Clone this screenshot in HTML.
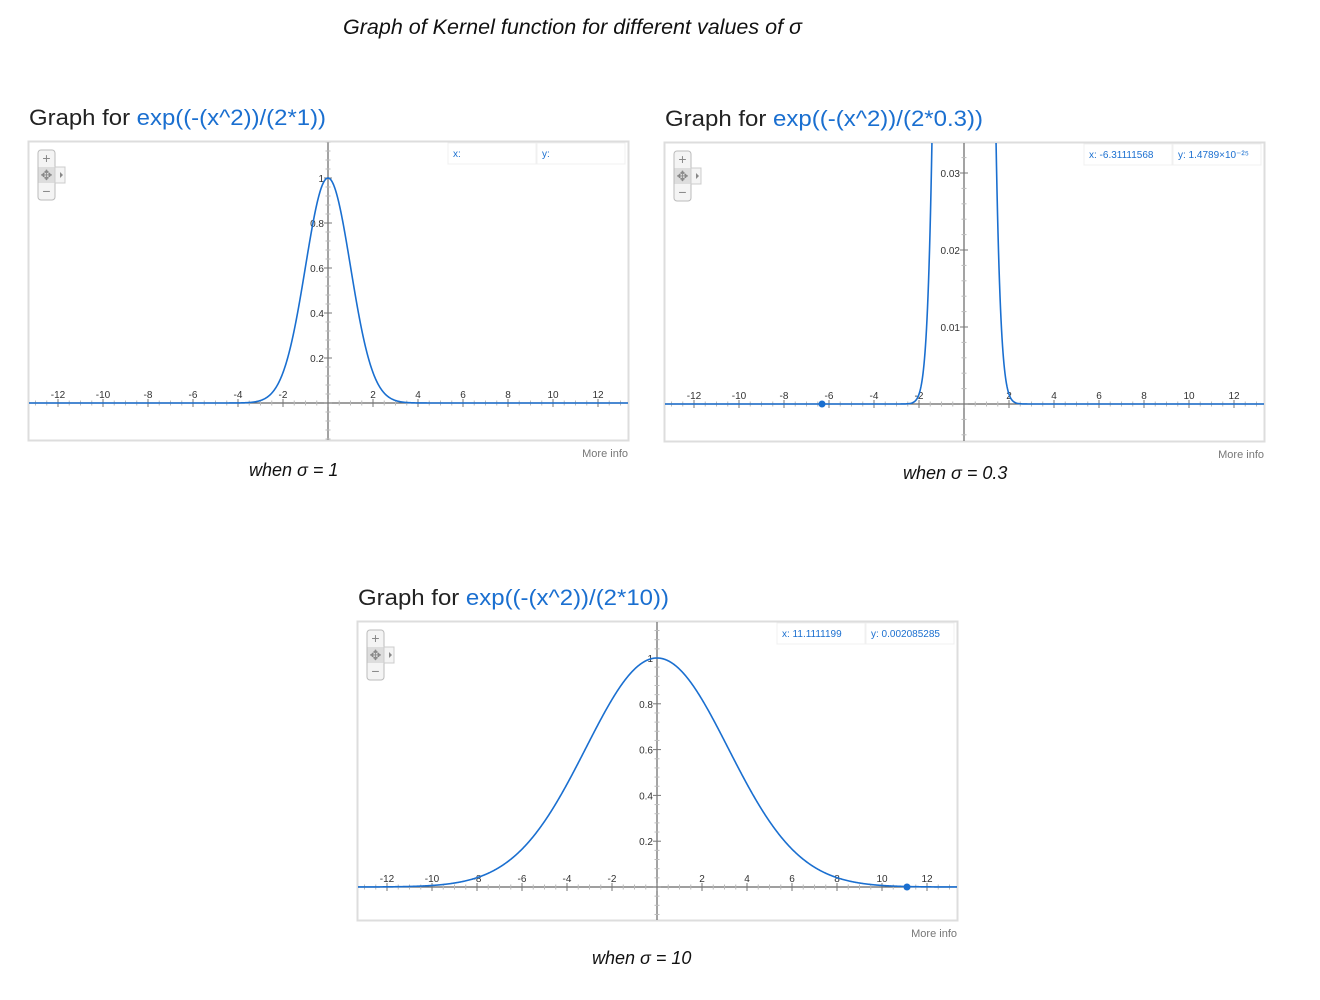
<!DOCTYPE html>
<html><head><meta charset="utf-8"><style>
html,body{margin:0;padding:0;background:#fff;width:1320px;height:1000px;overflow:hidden}
svg{display:block}
</style></head><body>
<svg id="s" width="1320" height="1000" xmlns="http://www.w3.org/2000/svg" font-family="Liberation Sans, Arial, sans-serif">
<text x="343" y="34" font-size="21" font-style="italic" fill="#111" textLength="459" lengthAdjust="spacingAndGlyphs">Graph of Kernel function for different values of σ</text>

<text x="29" y="125" font-size="22" fill="#222" textLength="297" lengthAdjust="spacingAndGlyphs">Graph for <tspan fill="#1a6fd0">exp((-(x^2))/(2*1))</tspan></text>
<text x="665" y="126" font-size="22" fill="#222" textLength="318" lengthAdjust="spacingAndGlyphs">Graph for <tspan fill="#1a6fd0">exp((-(x^2))/(2*0.3))</tspan></text>
<text x="358" y="605" font-size="22" fill="#222" textLength="311" lengthAdjust="spacingAndGlyphs">Graph for <tspan fill="#1a6fd0">exp((-(x^2))/(2*10))</tspan></text>

<text x="249" y="476" font-size="18" font-style="italic" fill="#111">when σ = 1</text>
<text x="903" y="479" font-size="18" font-style="italic" fill="#111">when σ = 0.3</text>
<text x="592" y="964" font-size="18" font-style="italic" fill="#111">when σ = 10</text>

<text x="628" y="457" font-size="11" fill="#777" text-anchor="end">More info</text>
<text x="1264" y="458" font-size="11" fill="#777" text-anchor="end">More info</text>
<text x="957" y="937" font-size="11" fill="#777" text-anchor="end">More info</text>
<g id="g"></g>
</svg>
<script>
var NS="http://www.w3.org/2000/svg",G=document.getElementById('g'),h='';
function graph(bx,by,ox,oy,ys,yt,ylab,f,xl,yl,dot){
 var W=600,H=299,sx=22.5;
 h+='<rect x="'+(bx+0.5)+'" y="'+(by+0.5)+'" width="'+W+'" height="'+H+'" fill="#fff" stroke="#ddd" stroke-width="2"/>';
 h+='<clipPath id="c'+bx+'"><rect x="'+(bx+1)+'" y="'+(by+1)+'" width="'+(W-1)+'" height="'+(H-1)+'"/></clipPath>';
 h+='<g clip-path="url(#c'+bx+')">';
 // axes
 h+='<line x1="'+bx+'" y1="'+oy+'" x2="'+(bx+W)+'" y2="'+oy+'" stroke="#666" stroke-width="1.2"/>';
 h+='<line x1="'+ox+'" y1="'+by+'" x2="'+ox+'" y2="'+(by+H)+'" stroke="#666" stroke-width="1.2"/>';
 for(var k=-30;k<=30;k++){var x=ox+k*sx/2;if(x<bx||x>bx+W)continue;var maj=k%4==0;
  h+='<line x1="'+x+'" y1="'+(oy-(maj?4:2.5))+'" x2="'+x+'" y2="'+(oy+(maj?4:2.5))+'" stroke="'+(maj?'#777':'#bbb')+'"/>';
  if(maj&&k!=0)h+='<text x="'+x+'" y="'+(oy-5)+'" font-size="10" fill="#333" text-anchor="middle">'+(k/2)+'</text>';}
 for(var k=-20;k<=40;k++){var y=oy-k*yt/5;if(y<by||y>by+H)continue;var maj=k%5==0;
  h+='<line x1="'+(ox-(maj?4:2.5))+'" y1="'+y+'" x2="'+(ox+(maj?4:2.5))+'" y2="'+y+'" stroke="'+(maj?'#777':'#bbb')+'"/>';
  if(maj&&k!=0&&ylab[k/5-1])h+='<text x="'+(ox-4)+'" y="'+(y+4)+'" font-size="10" fill="#333" text-anchor="end">'+ylab[k/5-1]+'</text>';}
 var d='';for(var px=bx;px<=bx+W;px+=0.5){var xv=(px-ox)/sx;var yv=oy-f(xv)*ys;if(yv<by-50)yv=by-50;d+=(d?'L':'M')+px.toFixed(1)+' '+yv.toFixed(2);}
 h+='<path d="'+d+'" fill="none" stroke="#1a6fd0" stroke-width="1.6"/>';
 if(dot)h+='<circle cx="'+dot+'" cy="'+oy+'" r="3.5" fill="#1a6fd0"/>';
 h+='</g>';
 // zoom controls
 var zx=bx+10,zy=by+9;
 h+='<rect x="'+zx+'" y="'+zy+'" width="17" height="50" rx="3" fill="#f4f4f4" stroke="#bbb"/>';
 h+='<rect x="'+(zx+17)+'" y="'+(zy+17)+'" width="10" height="16" fill="#f4f4f4" stroke="#ccc"/>';
 h+='<path d="M'+(zx+30)+' '+(zy+22)+'l3 3l-3 3z" fill="#888" transform="translate(-8,0)"/>';
 h+='<rect x="'+(zx+0.5)+'" y="'+(zy+17)+'" width="16" height="16" fill="#ddd"/>';
 h+='<text x="'+(zx+8.5)+'" y="'+(zy+13)+'" font-size="14" fill="#888" text-anchor="middle">+</text>';
 h+='<text x="'+(zx+8.5)+'" y="'+(zy+30)+'" font-size="14" fill="#888" text-anchor="middle">✥</text>';
 h+='<text x="'+(zx+8.5)+'" y="'+(zy+46)+'" font-size="14" fill="#888" text-anchor="middle">−</text>';
 // readout
 var rx=bx+W-180;
 h+='<rect x="'+rx+'" y="'+(by+2)+'" width="88" height="21" fill="#fff" stroke="#f0f0f0"/>';
 h+='<rect x="'+(rx+89)+'" y="'+(by+2)+'" width="88" height="21" fill="#fff" stroke="#f0f0f0"/>';
 h+='<text x="'+(rx+5)+'" y="'+(by+16)+'" font-size="10" fill="#1a6fd0">'+xl+'</text>';
 h+='<text x="'+(rx+94)+'" y="'+(by+16)+'" font-size="10" fill="#1a6fd0">'+yl+'</text>';
}
graph(28,141,328,403,225,45,['0.2','0.4','0.6','0.8','1'],function(x){return Math.exp(-x*x/2)},'x:','y:',0);
graph(664,142,964,404,7700,77,['0.01','0.02','0.03','',''],function(x){return Math.exp(-x*x/0.6)},'x: -6.31111568','y: 1.4789×10⁻²⁵',822);
graph(357,621,657,887,229,45.8,['0.2','0.4','0.6','0.8','1'],function(x){return Math.exp(-x*x/20)},'x: 11.1111199','y: 0.002085285',907);
G.innerHTML=h;
</script>
</body></html>
